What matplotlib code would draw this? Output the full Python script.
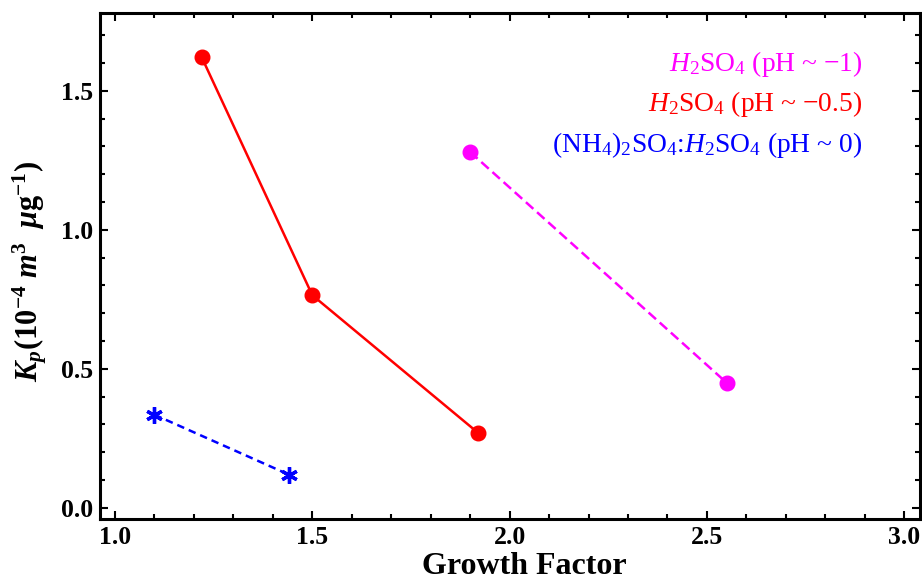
import matplotlib
matplotlib.use('Agg')
import matplotlib.pyplot as plt
from matplotlib.ticker import MultipleLocator

# data
gf_h2so4_m1 = [1.90, 2.55]
kp_h2so4_m1 = [1.28, 0.45]
gf_h2so4_m05 = [1.22, 1.50, 1.92]
kp_h2so4_m05 = [1.62, 0.765, 0.27]
gf_ams = [1.10, 1.44]
kp_ams = [0.335, 0.12]

labels = [r'$\mathit{H}_2\mathrm{SO}_4$ (pH ~ $-$1)',
          r'$\mathit{H}_2\mathrm{SO}_4$ (pH ~ $-$0.5)',
          r'$\mathrm{(NH}_4\mathrm{)}_2\mathrm{SO}_4$:$\mathit{H}_2\mathrm{SO}_4$ (pH ~ 0)']
colors = ['#ff00ff', '#ff0000', '#0000ff']

plt.rcParams['font.family'] = 'Liberation Serif'
plt.rcParams['mathtext.fontset'] = 'custom'
plt.rcParams['mathtext.rm'] = 'Liberation Serif'
plt.rcParams['mathtext.it'] = 'Liberation Serif:italic'
plt.rcParams['mathtext.bf'] = 'Liberation Serif:bold'
plt.rcParams['mathtext.bfit'] = 'Liberation Serif:italic:bold'

fig = plt.figure(figsize=(9.22, 5.83), dpi=100)
ax = fig.add_axes([100/922, 1 - 519/583, 820/922, 506/583])

ax.plot(gf_h2so4_m1, kp_h2so4_m1, color=colors[0], lw=1.8, ls=(0, (4, 2)),
        marker='o', ms=10.5)
ax.plot(gf_h2so4_m05, kp_h2so4_m05, color=colors[1], lw=1.8, marker='o', ms=10.5)
ax.plot(gf_ams, kp_ams, color=colors[2], lw=1.8, ls=(0, (3, 2)),
        marker=(6, 2, 0), ms=12, mew=2.4)

ax.set_xlim(0.962, 3.04)
ax.set_ylim(-0.04, 1.78)
ax.xaxis.set_major_locator(MultipleLocator(0.5))
ax.xaxis.set_minor_locator(MultipleLocator(0.1))
ax.yaxis.set_major_locator(MultipleLocator(0.5))
ax.yaxis.set_minor_locator(MultipleLocator(0.1))
ax.tick_params(which='both', direction='in', top=True, right=True, width=1.5)
ax.tick_params(which='major', length=6, labelsize=18.5, pad=5)
ax.tick_params(which='minor', length=3.5)
for lab in ax.get_xticklabels() + ax.get_yticklabels():
    lab.set_fontweight('bold')
for s in ax.spines.values():
    s.set_linewidth(2.2)

ax.set_xlabel('Growth Factor', fontsize=23, fontweight='bold')
ax.xaxis.set_label_coords(0.517, -0.065)
ax.set_ylabel(r'$\mathbfit{K}_{\mathbfit{p}}\mathbf{(10^{-4}}\ \mathbfit{m}^{\mathbf{3}}\ \ \mathbfit{\mu}\mathbf{g^{-1})}$',
              fontsize=22)
ax.yaxis.set_label_coords(-0.062, 0.49)

ys = [0.899, 0.820, 0.739]
for lab, c, y in zip(labels, colors, ys):
    ax.text(0.930, y, lab, color=c, fontsize=19.8, ha='right', va='center',
            transform=ax.transAxes)

fig.savefig('out.png', dpi=100)
